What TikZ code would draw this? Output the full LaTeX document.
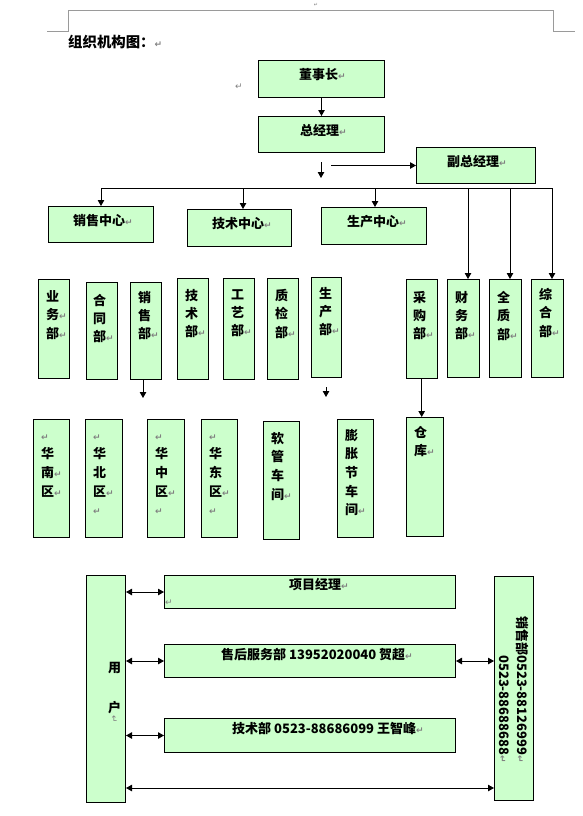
\documentclass[tikz,border=0pt]{standalone}
\usepackage{fontspec}
\setmainfont{Noto Sans CJK SC}
\newfontfamily\markfont{DejaVu Sans}
\usetikzlibrary{arrows.meta}
\definecolor{boxgreen}{HTML}{CCFFCC}
\definecolor{markgray}{HTML}{808080}
\definecolor{pagegray}{HTML}{9A9A9A}
\newcommand\pmk{{\markfont\fontsize{9}{9}\selectfont\textcolor{markgray}{↵}}}
\newcommand\bx[5]{\node[box, minimum width={(#4)-(#2)}, minimum height={(#5)-(#3)}] (#1) at (#2,#3) {};}
\begin{document}
\begin{tikzpicture}[x=1pt,y=-1pt,
  box/.style={draw=black, line width=1pt, fill=boxgreen, inner sep=0pt, anchor=north west},
  txt/.style={inner sep=0pt, font=\bfseries\fontsize{13}{13}\selectfont, anchor=west},
  vtxt/.style={inner sep=0pt, font=\bfseries\fontsize{13}{18.3}\selectfont, align=left, anchor=north west},
  vtxtb/.style={vtxt, font=\bfseries\fontsize{13}{18.6}\selectfont},
  pmark/.style={inner sep=0pt, font=\markfont\fontsize{9}{9}\selectfont, text=markgray},
  conn/.style={line width=1pt, draw=black},
  arr/.style={conn, -{Triangle[length=6pt,width=6.5pt]}},
  darr/.style={conn, {Triangle[length=6pt,width=6.5pt]}-{Triangle[length=6pt,width=6.5pt]}},
  pageline/.style={draw=pagegray, line width=1pt}]
\useasboundingbox (0,0) rectangle (582,816);
\fill[white] (0,0) rectangle (582,816);

% page corner marks
\draw[pageline] (47,32) -- (68,32) -- (68,11) -- (553,11) -- (553,32) -- (575,32);
\node[pmark, font=\markfont\fontsize{5}{5}\selectfont] (topmark) at (316,5) {↵};

% title
\node[txt, font=\bfseries\fontsize{14.4}{14.4}\selectfont] (title) at (68,42) {组织机构图：\pmk};
\node[pmark] (m1) at (239,87) {↵};

% top boxes
\bx{dsz}{258}{60}{384}{97}
\bx{zjl}{258}{116}{384}{152}
\bx{fzjl}{416}{147}{535}{183}
\bx{xszx}{48}{206}{153}{242}
\bx{jszx}{187}{209}{291}{246}
\bx{sczx}{321}{207}{426}{244}
\node[txt] (dsz-t) at (299,75) {董事长\pmk};
\node[txt] (zjl-t) at (300,130) {总经理\pmk};
\node[txt] (fzjl-t) at (447,161.5) {副总经理\pmk};
\node[txt] (xszx-t) at (73,221) {销售中心\pmk};
\node[txt] (jszx-t) at (212,224) {技术中心\pmk};
\node[txt] (sczx-t) at (347,222) {生产中心\pmk};

% department row
\bx{ywb}{38}{279}{69}{378}
\bx{htb}{86}{282}{117}{379}
\bx{xsb}{130}{282}{161}{379}
\bx{jsb}{177}{278}{208}{379}
\bx{gyb}{223}{278}{254}{379}
\bx{zjb}{267}{278}{298}{379}
\bx{scb}{311}{277}{341}{377}
\bx{cgb}{406}{279}{437}{378}
\bx{cwb}{447}{279}{479}{377}
\bx{qzb}{489}{279}{521}{377}
\bx{zhb}{531}{279}{563}{377}
\node[vtxt] (ywb-t) at (46,290.5) {业\\务\pmk\\部\pmk};
\node[vtxt] (htb-t) at (93,294) {合\\同\\部\pmk};
\node[vtxt] (xsb-t) at (138,291) {销\\售\\部\pmk};
\node[vtxt] (jsb-t) at (185,289) {技\\术\\部\pmk};
\node[vtxt] (gyb-t) at (231,289) {工\\艺\\部\pmk};
\node[vtxt] (zjb-t) at (275,289) {质\\检\\部\pmk};
\node[vtxt] (scb-t) at (319,287) {生\\产\\部\pmk};
\node[vtxt] (cgb-t) at (413,291) {采\\购\\部\pmk};
\node[vtxt] (cwb-t) at (455,291) {财\\务\\部\pmk};
\node[vtxt] (qzb-t) at (497,291) {全\\质\\部\pmk};
\node[vtxt] (zhb-t) at (539,288) {综\\合\\部\pmk};

% bottom row
\bx{hn}{33}{419}{69}{537}
\bx{hb}{85}{419}{122}{537}
\bx{hz}{147}{419}{184}{537}
\bx{hd}{201}{419}{237}{537}
\bx{rg}{263}{421}{299}{539}
\bx{pz}{337}{419}{373}{537}
\bx{ck}{406}{417}{443}{536}
\node[vtxtb] (hn-t) at (41,429) {\vphantom{华}\pmk\\华\\南\pmk\\区\pmk};
\node[vtxtb] (hb-t) at (93,429) {\vphantom{华}\pmk\\华\\北\\区\pmk\\\pmk};
\node[vtxtb] (hz-t) at (155,429) {\vphantom{华}\pmk\\华\\中\\区\pmk\\\pmk};
\node[vtxtb] (hd-t) at (209,429) {\vphantom{华}\pmk\\华\\东\\区\pmk\\\pmk};
\node[vtxtb] (rg-t) at (271,432) {软\\管\\车\\间\pmk};
\node[vtxtb] (pz-t) at (345,429) {膨\\胀\\节\\车\\间\pmk};
\node[vtxtb] (ck-t) at (414,426) {仓\\库\pmk};

% customer section
\bx{yh}{86}{575}{125}{802}
\bx{xm}{164}{575}{455}{608}
\bx{sh}{164}{644}{455}{677}
\bx{js}{164}{718}{455}{752}
\bx{xsr}{494}{576}{533}{800}
\node[txt] (xm-t) at (289,585) {项目经理\pmk};
\node[pmark] (xm-m) at (169,603) {↵};
\node[txt] (sh-t) at (221,655) {售后服务部 13952020040 贺超\pmk};
\node[txt] (js-t) at (232,728) {技术部 0523-88686099 王智峰\pmk};
\node[txt] (yh-t1) at (108,668) {用};
\node[txt] (yh-t2) at (108,708) {户};
\node[pmark, rotate=-90] (yh-m) at (114,719) {↵};
\node[inner sep=0pt, font=\bfseries\fontsize{13}{17.5}\selectfont, align=right, rotate=-90, anchor=north east] (xsr-t) at (528.5,763) {销售部0523-88126999\pmk\\0523-88688688\pmk};

% connectors
\draw[arr] (dsz.south) -- (zjl.north);
\coordinate (a1) at (321,162);
\coordinate (a2) at (321,178);
\draw[arr] (a1) -- (a2);
\coordinate (a3) at (331,165.5);
\draw[arr] (a3) -- (a3 -| fzjl.west);
\coordinate (busL) at (101,188);
\coordinate (busR) at (552,188);
\coordinate (b2) at (243,188);
\coordinate (b3) at (375,188);
\coordinate (b4) at (468,188);
\coordinate (b5) at (510,188);
\draw[conn] (busL) -- (busR);
\draw[arr] (busL) -- (busL |- xszx.north);
\draw[arr] (b2) -- (b2 |- jszx.north);
\draw[arr] (b3) -- (b3 |- sczx.north);
\draw[arr] (b4) -- (b4 |- cwb.north);
\draw[arr] (b5) -- (b5 |- qzb.north);
\draw[arr] (busR) -- (busR |- zhb.north);
\coordinate (c1) at (143,398);
\draw[arr] (c1 |- xsb.south) -- (c1);
\coordinate (c2s) at (326,387);
\coordinate (c2) at (326,397);
\draw[arr] (c2s) -- (c2);
\coordinate (c3) at (421.7,300);
\draw[arr] (c3 |- cgb.south) -- (c3 |- ck.north);
\draw[darr] (xm.west -| yh.east) -- (xm.west);
\draw[darr] (sh.west -| yh.east) -- (sh.west);
\draw[darr] (js.west -| yh.east) -- (js.west);
\draw[darr] (sh.east) -- (sh.east -| xsr.west);
\coordinate (d1) at (300,788);
\draw[darr] (d1 -| yh.east) -- (d1 -| xsr.west);
\end{tikzpicture}
\end{document}
